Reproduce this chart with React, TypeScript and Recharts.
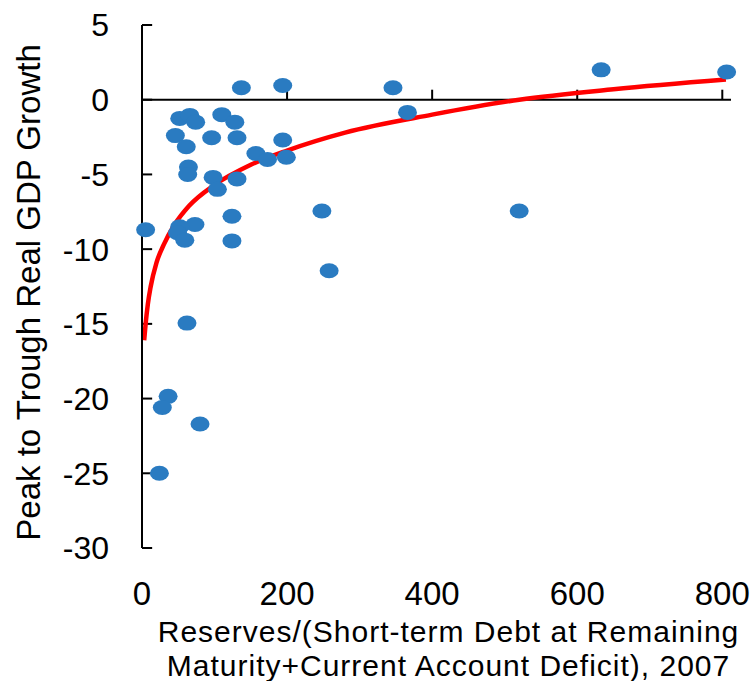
import { ComposedChart, Line, ReferenceLine, Scatter, XAxis, YAxis } from "recharts";

const font = "'Liberation Sans', Arial, sans-serif";

// x: reserves / (short-term debt + CA deficit), y: peak-to-trough real GDP growth
const reserveRatio = [5, 137, 194, 346, 633, 806, 366, 52, 66, 74, 110, 128, 46, 61, 96, 131, 194, 157, 173, 199, 64, 63, 98, 104, 131, 248, 124, 73, 52, 49, 59, 124, 520, 258, 62, 36, 28, 80, 24];
const gdpGrowth = [-8.7, 0.8, 0.95, 0.8, 2.0, 1.85, -0.85, -1.25, -1.05, -1.5, -1.0, -1.5, -2.4, -3.15, -2.55, -2.55, -2.7, -3.6, -4.0, -3.85, -4.5, -5.0, -5.2, -6.0, -5.3, -7.45, -7.8, -8.35, -8.5, -8.9, -9.4, -9.45, -7.45, -11.45, -14.95, -19.85, -20.6, -21.7, -25.0];

// red trend line
const trendX = [3, 5, 8, 12, 20, 30, 45, 65, 100, 150, 200, 280, 400, 520, 650, 805];
const trendY = [-16.1, -15.0, -13.7, -12.5, -10.9, -9.7, -8.35, -7.1, -5.7, -4.35, -3.4, -2.2, -1.0, 0.0, 0.7, 1.35];

const xTicks = [0, 200, 400, 600, 800];
const yTicks = [5, 0, -5, -10, -15, -20, -25, -30];

const points = reserveRatio.map((x, i) => ({ x, y: gdpGrowth[i] }));
const trend = trendX.map((x, i) => ({ x, y: trendY[i] }));

const Dot = (props: any) => <ellipse cx={props.cx} cy={props.cy} rx={9.5} ry={7.5} fill="#2a7bc1" />;

const XTitle = (props: any) => {
  const vb = props.viewBox;
  const cx = vb.x + vb.width / 2 + 12;
  return (
    <g fontFamily={font} fontSize={30} fill="#000" textAnchor="middle" letterSpacing={1}>
      <text x={cx} y={vb.y + 83} dominantBaseline="central">Reserves/(Short-term Debt at Remaining</text>
      <text x={cx} y={vb.y + 117} dominantBaseline="central">Maturity+Current Account Deficit), 2007</text>
    </g>
  );
};

const YTitle = (props: any) => {
  const vb = props.viewBox;
  const cy = vb.y + vb.height / 2 + 6;
  return (
    <text
      x={28}
      y={cy}
      transform={`rotate(-90, 28, ${cy})`}
      textAnchor="middle"
      dominantBaseline="central"
      fontFamily={font}
      fontSize={33}
      fill="#000"
    >
      Peak to Trough Real GDP Growth
    </text>
  );
};

export default function App() {
  return (
    <div style={{ position: "absolute", left: 0, top: 0, background: "#fff" }}>
      <ComposedChart width={756} height={681} margin={{ top: 25, right: 25, left: 0, bottom: 73 }}>
        <XAxis
          type="number"
          dataKey="x"
          domain={[0, 812]}
          ticks={xTicks}
          interval={0}
          height={60}
          axisLine={false}
          tickLine={false}
          tickSize={0}
          tickMargin={34}
          tick={{ fontSize: 33, fill: "#000", fontFamily: font }}
          label={{ content: XTitle }}
        />
        <YAxis
          type="number"
          dataKey="y"
          domain={[-30, 5]}
          ticks={yTicks}
          interval={0}
          width={142}
          axisLine={{ stroke: "#000", strokeWidth: 2 }}
          tickLine={false}
          tickSize={0}
          tickMargin={33}
          tick={{ fontSize: 32, fill: "#000", fontFamily: font }}
          label={{ content: YTitle }}
        />
        <ReferenceLine y={0} stroke="#000" strokeWidth={2} />
        {xTicks.slice(1).map((t) => (
          <ReferenceLine key={`xt${t}`} segment={[{ x: t, y: 0 }, { x: t, y: 0.67 }]} stroke="#000" strokeWidth={2} />
        ))}
        {yTicks.map((t) => (
          <ReferenceLine key={`yt${t}`} segment={[{ x: 0, y: t }, { x: 14, y: t }]} stroke="#000" strokeWidth={2} />
        ))}
        <Scatter data={points} shape={Dot} isAnimationActive={false} />
        <Line
          data={trend}
          dataKey="y"
          type="monotone"
          stroke="#ff0000"
          strokeWidth={4.5}
          dot={false}
          activeDot={false}
          isAnimationActive={false}
        />
      </ComposedChart>
    </div>
  );
}
